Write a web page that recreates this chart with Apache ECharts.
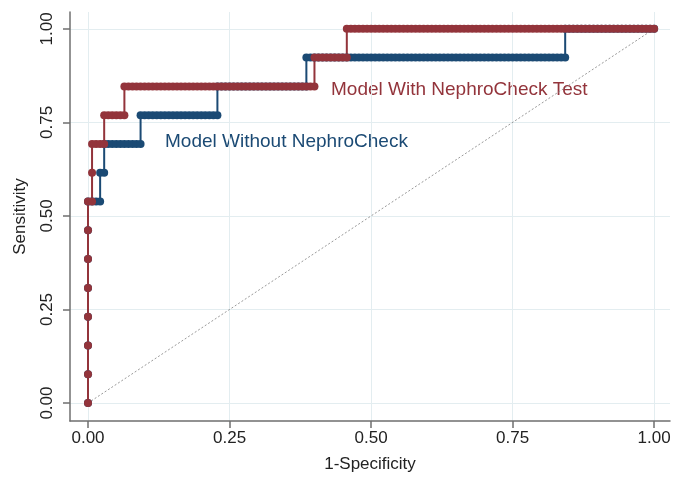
<!DOCTYPE html>
<html>
<head>
<meta charset="utf-8">
<title>ROC curves</title>
<script src="https://cdn.jsdelivr.net/npm/echarts@6/dist/echarts.min.js"></script>
<style>
  html, body { margin: 0; padding: 0; background: #fff; }
  #chart { width: 684px; height: 479px; }
</style>
</head>
<body>
<div id="chart"></div>
<script>
// counts of negatives / positives behind the ROC points
const nNeg = 140
const nPos = 13

// corner points of each step curve (false positive count, true positive count)
const withFP = [0, 0, 1, 1, 4, 4, 9, 9, 56, 56, 64, 64, 140]
const withTP = [0, 7, 7, 9, 9, 10, 10, 11, 11, 12, 12, 13, 13]
const withoutFP = [0, 0, 3, 3, 4, 4, 13, 13, 32, 32, 54, 54, 118, 118, 140]
const withoutTP = [0, 7, 7, 8, 8, 9, 9, 10, 10, 11, 11, 12, 12, 13, 13]

const xTicks = [0, 0.25, 0.5, 0.75, 1]
const yTicks = [0, 0.25, 0.5, 0.75, 1]
const refLine = [[0, 0], [1, 1]]

const RED = '#93343b'
const BLUE = '#1b4a74'
const FONT = "'Liberation Sans', Arial, Helvetica, sans-serif"

// one point per threshold: walk the corners one case at a time
function rocPoints(fp, tp) {
  const pts = [[fp[0] / nNeg, tp[0] / nPos]]
  for (let i = 1; i < fp.length; i++) {
    let f = fp[i - 1], t = tp[i - 1]
    while (f !== fp[i] || t !== tp[i]) {
      if (f < fp[i]) f++
      else if (t < tp[i]) t++
      pts.push([f / nNeg, t / nPos])
    }
  }
  return pts
}

const chart = echarts.init(document.getElementById('chart'))

const axisCommon = {
  type: 'value',
  nameLocation: 'middle',
  nameTextStyle: { fontFamily: FONT, fontSize: 17, color: '#222' },
  axisLine: { show: true, onZero: false, lineStyle: { color: '#6f6f6f', width: 1.5 } },
  axisTick: { show: true, length: 7, lineStyle: { color: '#6f6f6f', width: 1.5 } },
  splitLine: { show: true, lineStyle: { color: '#e3edf0', width: 1 } }
}

chart.setOption({
  animation: false,
  backgroundColor: '#fff',
  grid: { left: 70, right: 14, top: 12, bottom: 58, containLabel: false },
  xAxis: {
    ...axisCommon,
    name: '1-Specificity',
    nameGap: 35,
    min: -0.0318,
    max: 1.028,
    axisTick: { ...axisCommon.axisTick, customValues: xTicks },
    axisLabel: {
      customValues: xTicks,
      formatter: (v) => v.toFixed(2),
      fontFamily: FONT, fontSize: 17, color: '#222', margin: 9
    }
  },
  yAxis: {
    ...axisCommon,
    name: 'Sensitivity',
    nameGap: 41,
    min: -0.048,
    max: 1.045,
    axisTick: { ...axisCommon.axisTick, customValues: yTicks },
    axisLabel: {
      customValues: yTicks,
      rotate: 90,
      formatter: (v) => v.toFixed(2),
      fontFamily: FONT, fontSize: 17, color: '#222', margin: 14
    }
  },
  series: [
    {
      name: 'Reference',
      type: 'line',
      data: refLine,
      symbol: 'none',
      lineStyle: { color: '#9a9a9a', width: 1, type: [2, 2] },
      silent: true
    },
    {
      name: 'Model Without NephroCheck',
      type: 'line',
      data: rocPoints(withoutFP, withoutTP),
      symbol: 'circle',
      symbolSize: 8,
      showAllSymbol: true,
      itemStyle: { color: BLUE },
      lineStyle: { color: BLUE, width: 2 }
    },
    {
      name: 'Model With NephroCheck Test',
      type: 'line',
      data: rocPoints(withFP, withTP),
      symbol: 'circle',
      symbolSize: 8,
      showAllSymbol: true,
      itemStyle: { color: RED },
      lineStyle: { color: RED, width: 2 }
    }
  ],
  graphic: [
    {
      type: 'text',
      left: 331,
      top: 80,
      style: { text: 'Model With NephroCheck Test', fill: RED, font: '19px ' + FONT }
    },
    {
      type: 'text',
      left: 165,
      top: 132,
      style: { text: 'Model Without NephroCheck', fill: BLUE, font: '19px ' + FONT }
    }
  ]
})

window.addEventListener('resize', () => chart.resize())
</script>
</body>
</html>
